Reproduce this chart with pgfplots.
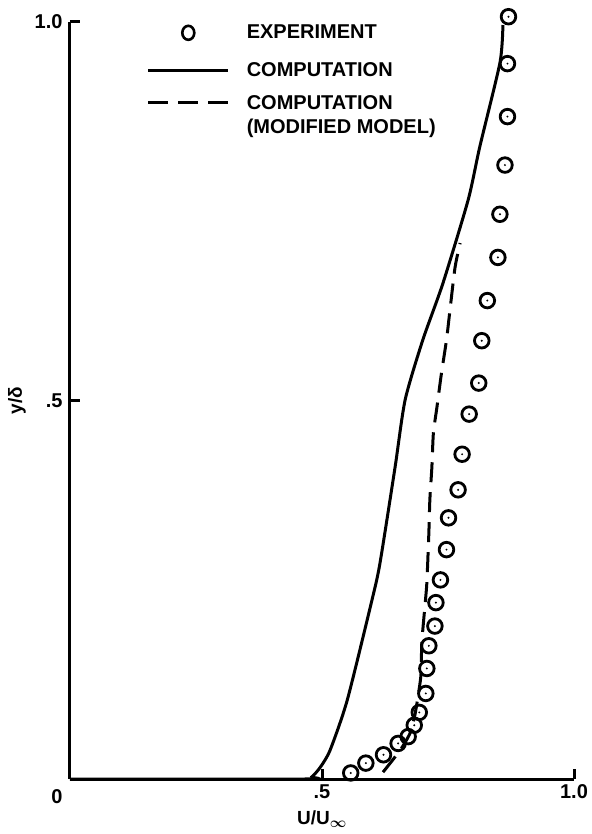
\documentclass[border=0pt]{standalone}
\usepackage{fontspec}
\setmainfont{Liberation Sans}
\usepackage{pgfplots}
\pgfplotsset{compat=1.18}
\pgfdeclareplotmark{circdot}{%
  \pgfpathcircle{\pgfpoint{0pt}{0pt}}{\pgfplotmarksize}\pgfusepathqstroke
  \pgfpathcircle{\pgfpoint{0pt}{0pt}}{1.1pt}\pgfusepathqfill}
\begin{document}
\begin{tikzpicture}
\begin{axis}[
  at={(0pt,0pt)}, anchor=origin,
  scale only axis, width=504pt, height=757pt,
  xmin=0, xmax=1, ymin=0, ymax=1,
  axis lines=left, axis line style={-, line width=3pt},
  clip=false,
  xtick={0.5,1}, xticklabels={.5,1.0},
  ytick={0.5,1}, yticklabels={.5,1.0},
  tick align=inside, major tick length=10pt,
  tick style={line width=3pt, black},
  ticklabel style={font=\bfseries\fontsize{20}{24}\selectfont},
  xticklabel style={yshift=-2pt},
  yticklabel style={xshift=-4pt},
  xlabel={U/U{\boldmath$_\infty$}}, ylabel={y/δ},
  label style={font=\bfseries\fontsize{19}{23}\selectfont},
  xlabel style={at={(axis description cs:0.5,0)}, anchor=center, yshift=-40pt},
  ylabel style={at={(axis description cs:0,0.5)}, anchor=center, yshift=53pt},
  legend style={at={(rel axis cs:0.152,1)}, anchor=north west, yshift=-1pt, draw=none, fill=none,
    inner sep=0pt, row sep=13pt, column sep=15pt,
    font=\bfseries\fontsize{20}{24}\selectfont, cells={anchor=base west}},
  legend cell align=left,
  legend image code/.code={\draw[#1] (0pt,0pt) -- (80pt,0pt);},
]
\addplot[only marks, mark=circdot, mark size=7.3pt, line width=2.8pt,
  legend image code/.code={\draw[line width=2.6pt] (40pt,0pt) ellipse [x radius=6pt, y radius=7pt];
    \path (40pt,-13.5pt);}]
  coordinates {
(0.557,0.008) (0.587,0.021) (0.622,0.032) (0.651,0.047) (0.671,0.056)
(0.683,0.071) (0.693,0.088) (0.706,0.113) (0.708,0.146) (0.712,0.176)
(0.724,0.202) (0.726,0.233) (0.735,0.263) (0.747,0.303) (0.751,0.345)
(0.770,0.382) (0.778,0.429) (0.792,0.482) (0.811,0.523) (0.817,0.579)
(0.828,0.632) (0.849,0.689) (0.853,0.746) (0.863,0.811) (0.868,0.875)
(0.868,0.945) (0.870,1.007)
};
\addlegendentry{EXPERIMENT}
\addplot[line width=3pt, smooth, tension=0.4] coordinates {
(0,0) (0.466,0) (0.480,0.003) (0.496,0.015) (0.516,0.038) (0.550,0.104)
(0.599,0.236) (0.615,0.285) (0.645,0.412) (0.665,0.501) (0.700,0.580)
(0.740,0.655) (0.790,0.765) (0.813,0.835) (0.853,0.946) (0.859,0.996)
};
\addlegendentry{COMPUTATION}
\addplot[line width=3pt, dash pattern=on 20pt off 10pt, smooth, tension=0.4] coordinates {
(0.621,0.009) (0.655,0.038) (0.675,0.061) (0.685,0.087) (0.696,0.135)
(0.698,0.180) (0.704,0.227) (0.708,0.259) (0.712,0.325) (0.714,0.369)
(0.718,0.412) (0.721,0.457) (0.728,0.491) (0.737,0.536) (0.747,0.580)
(0.754,0.620) (0.764,0.676) (0.774,0.708)
};
\addlegendentry{\parbox[t]{250pt}{COMPUTATION\\(MODIFIED MODEL)}}
\node[font=\bfseries\fontsize{20}{24}\selectfont] at (rel axis cs:0,0) [xshift=-13pt, yshift=-18pt] {0};
\end{axis}
\pgfresetboundingbox
\path (-70pt,-55pt) rectangle (521pt,779pt);
\end{tikzpicture}
\end{document}
